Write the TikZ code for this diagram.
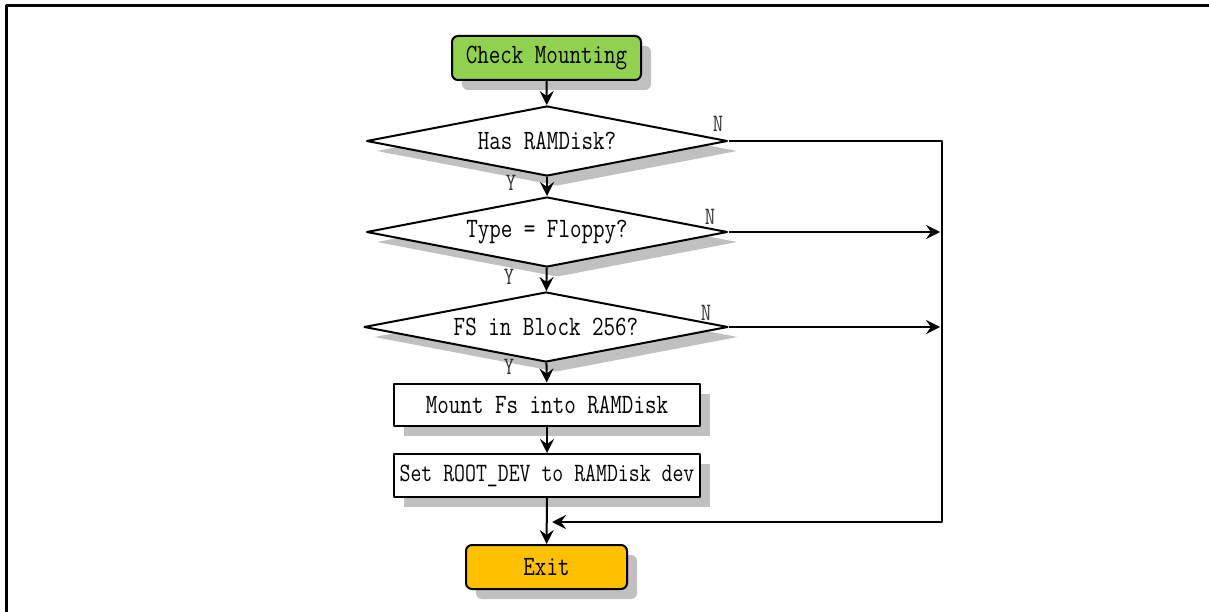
\documentclass[tikz,border=0pt]{standalone}
\usepackage{fontspec}
\newfontfamily\chartmono[FakeStretch=0.8]{Latin Modern Mono}
\usetikzlibrary{arrows.meta,shapes.geometric,shadows}

\definecolor{startgreen}{HTML}{92D050}
\definecolor{exitorange}{HTML}{FFC000}
\definecolor{shadowgray}{HTML}{C0C0C0}

\tikzset{
  boxshadow/.style={drop shadow={shadow xshift=10pt,shadow yshift=-10pt,fill=shadowgray,opacity=1}},
  chartfont/.style={font=\chartmono\fontsize{28}{30}\selectfont},
  term/.style={draw,rounded corners=6pt,line width=2pt,minimum width=189pt,minimum height=44pt,chartfont,boxshadow},
  test/.style={draw,diamond,aspect=5.1,inner sep=0pt,line width=2pt,fill=white,minimum width=361pt,minimum height=70pt,chartfont,boxshadow},
  stepbox/.style={draw,rectangle,line width=2pt,fill=white,minimum width=306pt,minimum height=42pt,inner sep=1pt,chartfont,boxshadow},
  yn/.style={font=\chartmono\fontsize{25}{27}\selectfont,text=black!80},
  flow/.style={line width=2pt,-{Stealth[length=14pt,width=14pt,inset=5pt]}},
}

\begin{document}
\begin{tikzpicture}[x=1pt,y=-1pt,line join=round]
  \useasboundingbox (0,0) rectangle (1209,612);
  \draw[line width=3pt] (6,612)--(6,6)--(1209,6);

  \node[term,fill=startgreen] (start) at (546.5,58) {Check Mounting};
  \node[test] (ramdisk) at (547,141) {Has RAMDisk?};
  \node[test] (floppy) at (547,232) {Type = Floppy?};
  \node[test,minimum width=364pt] (block) at (546,327) {FS in Block 256?};
  \node[stepbox] (mount) at (547,404.5) {Mount Fs into RAMDisk};
  \node[stepbox,minimum height=43pt,font=\chartmono\fontsize{26.5}{28}\selectfont] (setdev) at (547,475.5) {Set ROOT\_DEV to RAMDisk dev};
  \node[term,fill=exitorange,minimum width=161pt] (exit) at (546.5,567) {Exit};

  \coordinate (rtop) at (942,141);
  \coordinate (rbot) at (942,522);
  \coordinate (join) at (552,522);
  \coordinate (fin) at (940,232);
  \coordinate (bin) at (940,327);

  \draw[flow] (start)--(ramdisk);
  \draw[flow] (ramdisk)--(floppy);
  \draw[flow] (floppy)--(block);
  \draw[flow] (block)--(mount);
  \draw[flow] (mount)--(setdev);
  \draw[flow] (setdev)--(exit);

  \draw[flow] (ramdisk.east)--(rtop)--(rbot)--(join);
  \draw[flow] (floppy.east)--(fin);
  \draw[flow] (block.east)--(bin);

  \node[yn] at (511,183) {Y};
  \node[yn] at (509,277) {Y};
  \node[yn] at (509,367) {Y};
  \node[yn] at (718,124) {N};
  \node[yn] at (710,217) {N};
  \node[yn] at (706,313) {N};
\end{tikzpicture}
\end{document}
